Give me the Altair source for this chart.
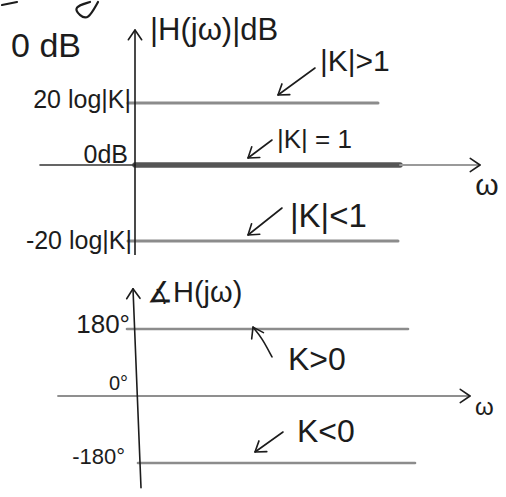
import altair as alt
import pandas as pd

# Bode sketch of a constant gain H(jw) = K.
# Horizontal unit: arbitrary frequency units (w = 0 at the vertical axis).
# Magnitude panel in dB, phase panel in degrees.

X_DOMAIN = [-1.35, 3.71]
MAG_DOMAIN = [-9.0, 16.5]
PHASE_DOMAIN = [-271.4, 378.8]

# ---- magnitude panel -------------------------------------------------------
mag_levels = [6.2, 0.0, -7.6]          # |K|>1, |K|=1, |K|<1  (dB)
mag_line_start = [-0.07, 0.0, -0.07]
mag_line_end = [2.43, 2.65, 2.63]
mag_line_color = ["#8c8c8c", "#555555", "#8c8c8c"]
mag_line_width = [3.0, 5.5, 3.0]

mag_axis_y = [13.5, -9.0]              # vertical |H(jw)|dB axis
mag_w_axis_x = [-0.95, 0.0, 2.65, 3.45]  # horizontal w axis pieces
mag_w_axis_color = ["#333333", "#9a9a9a"]
mag_w_axis_width = [1.6, 2.0]

mag_pointer_x = [[1.80, 1.43], [1.37, 1.13], [1.47, 1.13]]
mag_pointer_y = [[9.7, 7.0], [2.5, 0.7], [-4.3, -7.0]]
mag_pointer_angle = [234, 233, 232]

mag_scrap_x = [[-1.33, -1.18], [-0.45, -0.62, -0.55, -0.47, -0.37]]
mag_scrap_y = [[16.0, 16.3], [16.3, 15.8, 14.9, 14.5, 16.3]]

mag_text = ["0 dB", "|H(jω)|dB", "|K|>1", "20 log|K|", "0dB",
            "|K| = 1", "ω", "|K|<1", "-20 log|K|"]
mag_text_x = [-0.89, 0.15, 1.85, -0.04, -0.07, 1.42, 3.52, 1.55, -0.03]
mag_text_y = [11.8, 13.4, 10.3, 6.5, 1.0, 2.5, -2.1, -5.2, -7.6]
mag_text_size = [34, 31, 30, 25, 25, 26, 30, 33, 25]
mag_text_align = ["center", "left", "left", "right", "right",
                  "left", "center", "left", "right"]

# ---- phase panel -----------------------------------------------------------
phase_levels = [180.0, -180.0]         # K>0, K<0  (degrees)
phase_line_start = [-0.08, 0.03]
phase_line_end = [2.73, 2.80]

phase_axis_x = [-0.02, 0.06]
phase_axis_y = [288.0, -246.5]
phase_w_axis_x = [-0.77, 3.35]

phase_pointer_x = [[1.37, 1.27, 1.18], [1.48, 1.20]]
phase_pointer_y = [[104.8, 155.8, 185.0], [-96.7, -150.5]]
phase_pointer_angle = [332, 234]

phase_text = ["∡H(jω)", "180°", "K>0", "0°", "ω", "K<0", "-180°"]
phase_text_x = [0.12, -0.05, 1.53, -0.07, 3.40, 1.62, -0.10]
phase_text_y = [276.8, 190.8, 96.7, 32.2, -32.2, -96.7, -163.9]
phase_text_size = [29, 26, 32, 20, 24, 32, 22]
phase_text_align = ["left", "right", "left", "right", "left", "left", "right"]

FONT = "Liberation Sans"
INK = "#1c1c1c"
CHEVRON = "M-0.65,0.95L0,0L0.65,0.95"


def strokes(rows):
    """rows: list of (xs, ys, color, width) -> long table for mark_line."""
    recs = []
    for k, (xs, ys, color, width) in enumerate(rows):
        for i, (x, y) in enumerate(zip(xs, ys)):
            recs.append({"seg": k, "i": i, "x": x, "y": y,
                         "color": color, "w": width})
    return pd.DataFrame(recs)


def panel(line_rows, heads, labels, y_domain, height):
    xs = alt.Scale(domain=X_DOMAIN, nice=False, zero=False)
    ys = alt.Scale(domain=y_domain, nice=False, zero=False)
    X = alt.X("x:Q", scale=xs, axis=None)
    Y = alt.Y("y:Q", scale=ys, axis=None)

    lines = alt.Chart(strokes(line_rows)).mark_line(
        strokeCap="round", strokeJoin="round", interpolate="basis", clip=True
    ).encode(
        x=X, y=Y, detail="seg:N", order=alt.Order("i:Q"),
        color=alt.Color("color:N", scale=None),
        strokeWidth=alt.StrokeWidth("w:Q", scale=None),
    )

    tips = alt.Chart(pd.DataFrame(heads)).mark_point(
        shape=CHEVRON, filled=False, color=INK, strokeWidth=1.6,
        size=420, opacity=1, strokeCap="round", strokeJoin="round",
    ).encode(x=X, y=Y, angle=alt.Angle("ang:Q", scale=None))

    layers = [lines, tips]
    for align in ["left", "center", "right"]:
        sub = [r for r in labels if r["align"] == align]
        if not sub:
            continue
        layers.append(
            alt.Chart(pd.DataFrame(sub)).mark_text(
                font=FONT, color=INK, align=align, baseline="middle"
            ).encode(x=X, y=Y, text="t:N",
                     size=alt.Size("s:Q", scale=None))
        )
    return alt.layer(*layers).properties(width=506, height=height)


# magnitude panel contents
mag_rows = []
for lvl, x0, x1, c, w in zip(mag_levels, mag_line_start, mag_line_end,
                             mag_line_color, mag_line_width):
    mag_rows.append(([x0, x1], [lvl, lvl], c, w))
mag_rows.append(([mag_w_axis_x[0], mag_w_axis_x[1]], [0.0, 0.0],
                 mag_w_axis_color[0], mag_w_axis_width[0]))
mag_rows.append(([mag_w_axis_x[2], mag_w_axis_x[3]], [0.0, 0.0],
                 mag_w_axis_color[1], mag_w_axis_width[1]))
mag_rows.append(([0.0, 0.0], mag_axis_y, INK, 1.6))
for px, py in zip(mag_pointer_x, mag_pointer_y):
    mag_rows.append((px, py, INK, 1.6))
for sx, sy in zip(mag_scrap_x, mag_scrap_y):
    mag_rows.append((sx, sy, INK, 2.2))

mag_heads = {"x": [0.0, mag_w_axis_x[3]] + [p[-1] for p in mag_pointer_x],
             "y": [mag_axis_y[0], 0.0] + [p[-1] for p in mag_pointer_y],
             "ang": [0, 90] + mag_pointer_angle}
mag_labels = [{"t": t, "x": x, "y": y, "s": s, "align": a}
              for t, x, y, s, a in zip(mag_text, mag_text_x, mag_text_y,
                                       mag_text_size, mag_text_align)]

# phase panel contents
ph_rows = []
for lvl, x0, x1 in zip(phase_levels, phase_line_start, phase_line_end):
    ph_rows.append(([x0, x1], [lvl, lvl], "#8c8c8c", 2.6))
ph_rows.append((phase_w_axis_x, [0.0, 0.0], "#8f8f8f", 1.8))
ph_rows.append((phase_axis_x, phase_axis_y, INK, 1.6))
for px, py in zip(phase_pointer_x, phase_pointer_y):
    ph_rows.append((px, py, INK, 1.6))

ph_heads = {"x": [phase_axis_x[0], phase_w_axis_x[1]] + [p[-1] for p in phase_pointer_x],
            "y": [phase_axis_y[0], 0.0] + [p[-1] for p in phase_pointer_y],
            "ang": [358, 90] + phase_pointer_angle}
ph_labels = [{"t": t, "x": x, "y": y, "s": s, "align": a}
             for t, x, y, s, a in zip(phase_text, phase_text_x, phase_text_y,
                                      phase_text_size, phase_text_align)]

top = panel(mag_rows, mag_heads, mag_labels, MAG_DOMAIN, 255)
bottom = panel(ph_rows, ph_heads, ph_labels, PHASE_DOMAIN, 242)

chart = alt.vconcat(top, bottom, spacing=0).properties(
    padding=0, background="white",
).configure_view(stroke=None)

chart.save("out.html", embed_options={"renderer": "svg", "actions": False})
